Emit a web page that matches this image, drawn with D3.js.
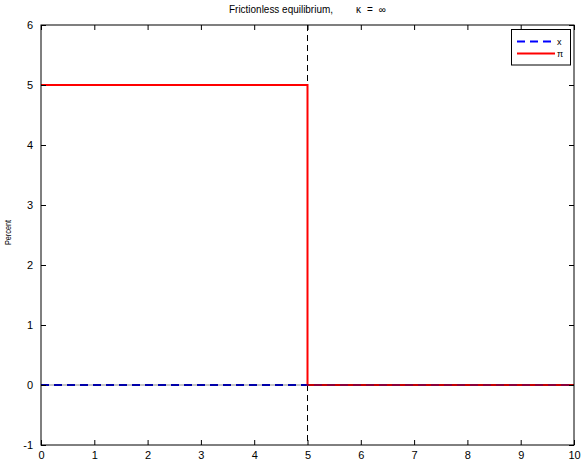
<!DOCTYPE html>
<html><head><meta charset="utf-8">
<script src="https://cdn.jsdelivr.net/npm/d3@7"></script>
<style>body{margin:0;background:#fff}svg{display:block}text{font-family:"Liberation Sans",Arial,sans-serif}</style>
</head><body>
<svg id="c" width="581" height="462"></svg>
<script>
const xTicks = [0,1,2,3,4,5,6,7,8,9,10];
const yTicks = [-1,0,1,2,3,4,5,6];
const xSeriesT = [0,5,10];
const xSeriesV = [0,0,0];
const piT = [0,5,5,10];
const piV = [5,5,0,0];
const shockT = 5;
const titleParts = ["Frictionless equilibrium,", "κ = ∞"];
const yLabel = "Percent";
const legendLabels = ["x","π"];

const svg = d3.select("#c");
const L=41,R=574,T=25,B=445;
const x = d3.scaleLinear().domain([0,10]).range([L,R]);
const y = d3.scaleLinear().domain([-1,6]).range([B,T]);
const fmt = d => String(d);

// shock line
svg.append("line").attr("x1",x(shockT)).attr("x2",x(shockT)).attr("y1",y(6)).attr("y2",y(-1))
  .attr("stroke","#000").attr("stroke-width",1).attr("stroke-dasharray","6,4");

const line = d3.line().x(d=>x(d[0])).y(d=>y(d[1]));
const xData = xSeriesT.map((t,i)=>[t,xSeriesV[i]]);
svg.append("path").attr("d",line(xData))
  .attr("fill","none").attr("stroke","#0000cc").attr("stroke-width",2).attr("stroke-dasharray","8,5");
svg.append("path").attr("d",line(piT.map((t,i)=>[t,piV[i]])))
  .attr("fill","none").attr("stroke","#ff0000").attr("stroke-width",2);
// faint overlays at zero (zero line, hidden x dashes)
svg.append("path").attr("d",line(xData))
  .attr("fill","none").attr("stroke","#0000ff").attr("stroke-opacity",0.3).attr("stroke-width",2).attr("stroke-dasharray","8,5");
svg.append("line").attr("x1",x(0)).attr("x2",x(10)).attr("y1",y(0)).attr("y2",y(0))
  .attr("stroke","#000").attr("stroke-opacity",0.45).attr("stroke-width",1);

// axes box
svg.append("rect").attr("x",L).attr("y",T).attr("width",R-L).attr("height",B-T)
  .attr("fill","none").attr("stroke","#000").attr("stroke-width",1);

const fs = "11px";
const gb = svg.append("g").attr("transform",`translate(0,${B})`)
  .call(d3.axisBottom(x).tickValues(xTicks).tickSizeInner(-5).tickSizeOuter(0).tickPadding(6).tickFormat(fmt));
const gt = svg.append("g").attr("transform",`translate(0,${T})`)
  .call(d3.axisTop(x).tickValues(xTicks).tickSizeInner(-5).tickSizeOuter(0).tickFormat(""));
const gl = svg.append("g").attr("transform",`translate(${L},0)`)
  .call(d3.axisLeft(y).tickValues(yTicks).tickSizeInner(-5).tickSizeOuter(0).tickPadding(8).tickFormat(fmt));
const gr = svg.append("g").attr("transform",`translate(${R},0)`)
  .call(d3.axisRight(y).tickValues(yTicks).tickSizeInner(-5).tickSizeOuter(0).tickFormat(""));
[gb,gt,gl,gr].forEach(g=>{g.select(".domain").remove();
  g.selectAll("text").attr("font-size",fs).attr("fill","#000").attr("font-family","Liberation Sans, Arial, sans-serif");});

svg.append("text").attr("x",229).attr("y",13).attr("font-size","10px")
  .attr("textLength",104).attr("lengthAdjust","spacingAndGlyphs").text(titleParts[0]);
svg.append("text").attr("x",356).attr("y",13).attr("font-size","10px")
  .attr("textLength",30).attr("lengthAdjust","spacing").text(titleParts[1]);
svg.append("text").attr("transform","translate(11,232.5) rotate(-90)").attr("text-anchor","middle")
  .attr("font-size","9px").attr("textLength",25).attr("lengthAdjust","spacingAndGlyphs").text(yLabel);

// legend
const lg = svg.append("g");
lg.append("rect").attr("x",511.5).attr("y",29.5).attr("width",59).attr("height",35.5)
  .attr("fill","#fff").attr("stroke","#000").attr("stroke-width",1);
lg.append("line").attr("x1",517).attr("x2",555).attr("y1",41.5).attr("y2",41.5)
  .attr("stroke","#0000ff").attr("stroke-width",2).attr("stroke-dasharray","8,5");
lg.append("line").attr("x1",517).attr("x2",555).attr("y1",53.5).attr("y2",53.5)
  .attr("stroke","#ff0000").attr("stroke-width",2);
lg.selectAll("text.l").data(legendLabels).join("text").attr("class","l")
  .attr("x",557).attr("y",(d,i)=>44.5+i*12).attr("font-size","9px").text(d=>d);
</script>
</body></html>
